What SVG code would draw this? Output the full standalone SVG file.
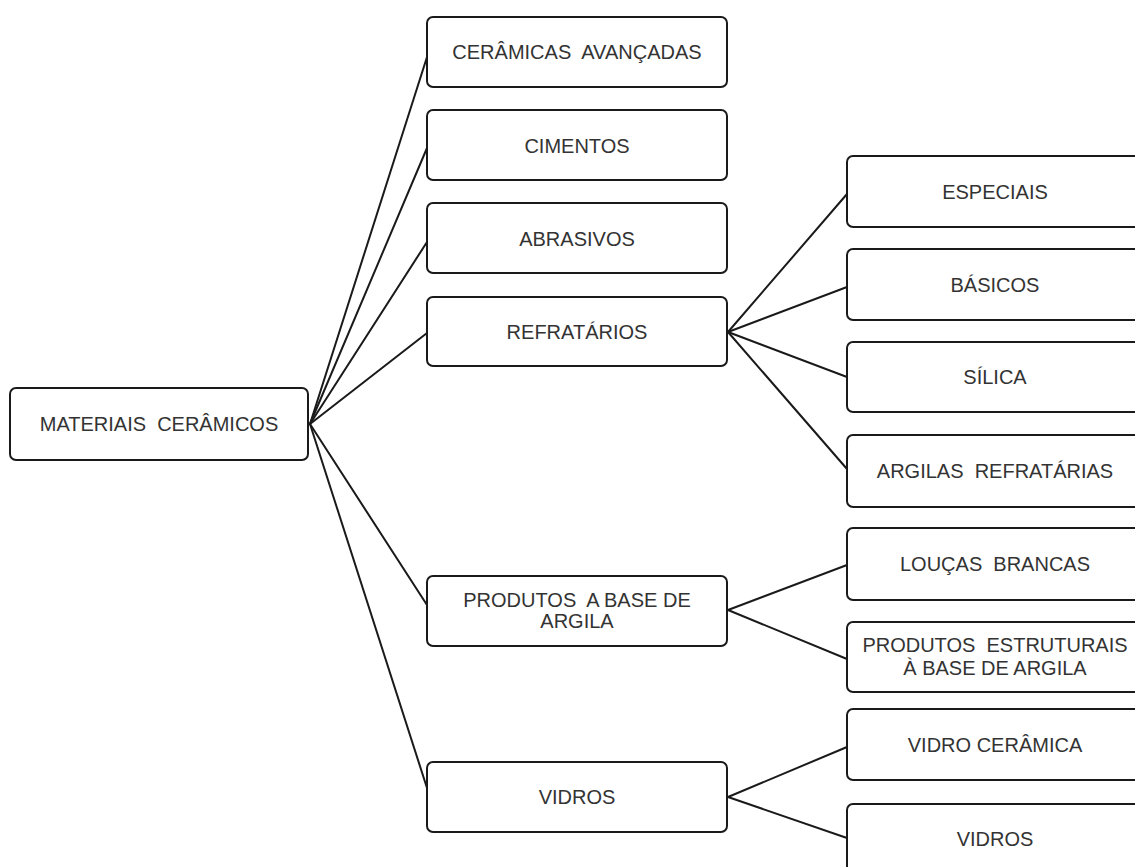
<svg xmlns="http://www.w3.org/2000/svg" width="1135" height="867" viewBox="0 0 1135 867">
<style>
.box{fill:#ffffff;stroke:#1a1a1a;stroke-width:2}
.lbl{font-family:"Liberation Sans",Arial,sans-serif;font-size:20px;fill:#333333;text-anchor:middle;white-space:pre}
.con{stroke:#1a1a1a;stroke-width:2;fill:none;stroke-linecap:round}
</style>
<rect width="1135" height="867" fill="#ffffff"/>
<g id="connectors">
<line class="con" x1="310" y1="424" x2="427" y2="57"/>
<line class="con" x1="310" y1="424" x2="427" y2="148"/>
<line class="con" x1="310" y1="424" x2="427" y2="242"/>
<line class="con" x1="310" y1="424" x2="427" y2="333"/>
<line class="con" x1="310" y1="424" x2="427" y2="605"/>
<line class="con" x1="310" y1="424" x2="427" y2="788"/>
<line class="con" x1="728" y1="332" x2="847" y2="194"/>
<line class="con" x1="728" y1="332" x2="847" y2="287"/>
<line class="con" x1="728" y1="332" x2="847" y2="377"/>
<line class="con" x1="728" y1="332" x2="847" y2="469"/>
<line class="con" x1="728" y1="610" x2="847" y2="565"/>
<line class="con" x1="728" y1="610" x2="847" y2="659"/>
<line class="con" x1="728" y1="797" x2="847" y2="747"/>
<line class="con" x1="728" y1="797" x2="847" y2="838"/>
</g>
<g id="n-materiais">
<rect class="box" x="10" y="388" width="298" height="72" rx="6"/>
<text class="lbl" x="159" y="431">MATERIAIS  CERÂMICOS</text>
</g>
<g id="n-ceramicas-avancadas">
<rect class="box" x="427" y="17" width="300" height="70" rx="6"/>
<text class="lbl" x="577" y="59">CERÂMICAS  AVANÇADAS</text>
</g>
<g id="n-cimentos">
<rect class="box" x="427" y="110" width="300" height="70" rx="6"/>
<text class="lbl" x="577" y="153">CIMENTOS</text>
</g>
<g id="n-abrasivos">
<rect class="box" x="427" y="203" width="300" height="70" rx="6"/>
<text class="lbl" x="577" y="246">ABRASIVOS</text>
</g>
<g id="n-refratarios">
<rect class="box" x="427" y="297" width="300" height="69" rx="6"/>
<text class="lbl" x="577" y="339">REFRATÁRIOS</text>
</g>
<g id="n-produtos-argila">
<rect class="box" x="427" y="576" width="300" height="70" rx="6"/>
<text class="lbl" x="577" y="607">PRODUTOS  A BASE DE</text>
<text class="lbl" x="577" y="628">ARGILA</text>
</g>
<g id="n-vidros">
<rect class="box" x="427" y="762" width="300" height="70" rx="6"/>
<text class="lbl" x="577" y="804">VIDROS</text>
</g>
<g id="n-especiais">
<rect class="box" x="847" y="156" width="298" height="71" rx="6"/>
<text class="lbl" x="995" y="199">ESPECIAIS</text>
</g>
<g id="n-basicos">
<rect class="box" x="847" y="249" width="298" height="71" rx="6"/>
<text class="lbl" x="995" y="292">BÁSICOS</text>
</g>
<g id="n-silica">
<rect class="box" x="847" y="342" width="298" height="70" rx="6"/>
<text class="lbl" x="995" y="384">SÍLICA</text>
</g>
<g id="n-argilas-refratarias">
<rect class="box" x="847" y="435" width="298" height="72" rx="6"/>
<text class="lbl" x="995" y="478">ARGILAS  REFRATÁRIAS</text>
</g>
<g id="n-loucas">
<rect class="box" x="847" y="528" width="298" height="72" rx="6"/>
<text class="lbl" x="995" y="571">LOUÇAS  BRANCAS</text>
</g>
<g id="n-produtos-estruturais">
<rect class="box" x="847" y="622" width="298" height="70" rx="6"/>
<text class="lbl" x="995" y="652">PRODUTOS  ESTRUTURAIS</text>
<text class="lbl" x="995" y="675">À BASE DE ARGILA</text>
</g>
<g id="n-vidro-ceramica">
<rect class="box" x="847" y="709" width="298" height="71" rx="6"/>
<text class="lbl" x="995" y="752">VIDRO CERÂMICA</text>
</g>
<g id="n-vidros2">
<rect class="box" x="847" y="804" width="298" height="80" rx="6"/>
<text class="lbl" x="995" y="846">VIDROS</text>
</g>
</svg>
